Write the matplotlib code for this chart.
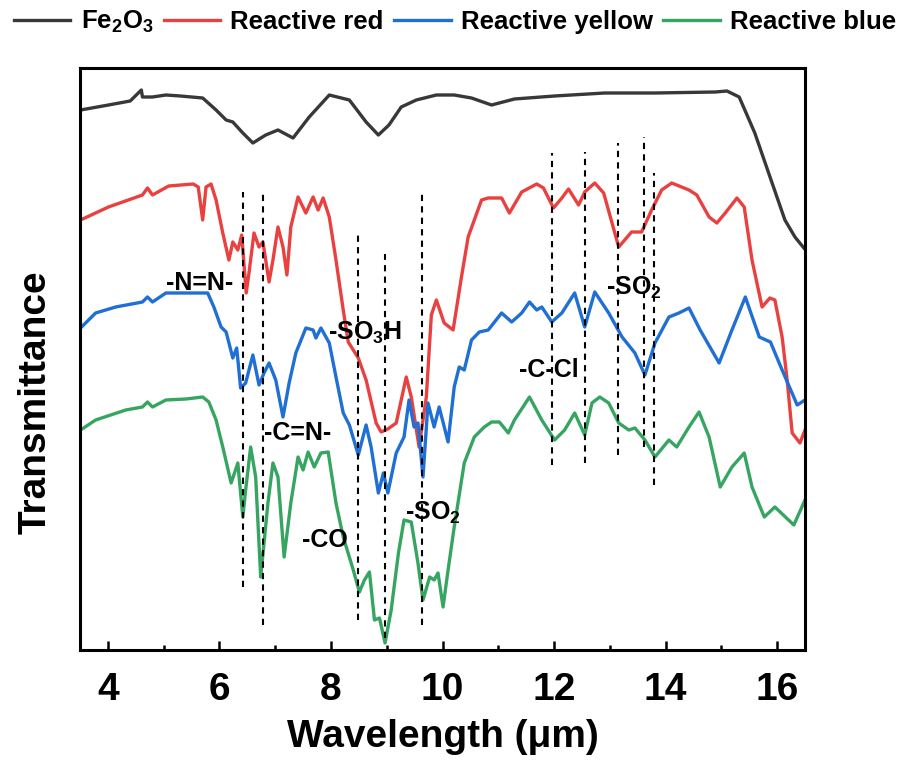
import matplotlib
matplotlib.use("Agg")
import matplotlib.pyplot as plt

plt.rcParams['font.family'] = ['Liberation Sans', 'DejaVu Sans']
plt.rcParams['font.weight'] = 'bold'
plt.rcParams['mathtext.fontset'] = 'custom'
plt.rcParams['mathtext.rm'] = 'Liberation Sans:bold'
plt.rcParams['mathtext.bf'] = 'Liberation Sans:bold'
plt.rcParams['mathtext.default'] = 'bf'

# Spectra (wavelength in um, transmittance in a.u.)
fe_x = [3.51, 4.01, 4.40, 4.60, 4.62, 4.80, 5.04, 5.30, 5.70, 5.94,
        6.12, 6.24, 6.42, 6.60, 6.83, 7.05, 7.32, 7.61, 7.97, 8.33,
        8.63, 8.85, 9.04, 9.26, 9.53, 9.89, 10.21, 10.52, 10.88, 11.29,
        12.01, 12.91, 13.81, 14.89, 15.10, 15.32, 15.60, 15.91, 16.14, 16.32,
        16.48]
fe_y = [540, 545, 549, 560, 553, 553, 555, 554, 552, 540,
        530, 528, 517, 507, 515, 520, 512, 533, 555, 550,
        528, 515, 525, 543, 550, 555, 555, 552, 545, 551,
        554, 557, 557, 558, 559, 553, 517, 467, 430, 413,
        402]

red_x = [3.51, 4.01, 4.62, 4.71, 4.80, 5.09, 5.53, 5.62, 5.70, 5.76,
         5.85, 5.94, 6.06, 6.17, 6.24, 6.33, 6.40, 6.48, 6.53, 6.62,
         6.71, 6.78, 6.89, 6.96, 7.05, 7.14, 7.21, 7.28, 7.41, 7.55,
         7.68, 7.77, 7.86, 7.97, 8.09, 8.22, 8.31, 8.49, 8.63, 8.81,
         8.90, 9.02, 9.17, 9.35, 9.44, 9.58, 9.71, 9.80, 9.89, 10.03,
         10.19, 10.34, 10.46, 10.70, 10.82, 11.06, 11.20, 11.42, 11.69, 11.81,
         11.99, 12.14, 12.26, 12.44, 12.55, 12.73, 12.89, 13.04, 13.16, 13.39,
         13.57, 13.75, 13.93, 14.11, 14.42, 14.56, 14.78, 14.92, 15.07, 15.28,
         15.41, 15.55, 15.73, 15.87, 15.96, 16.09, 16.18, 16.27, 16.41, 16.50]
red_y = [430, 443, 455, 462, 455, 464, 466, 463, 430, 463,
         466, 450, 417, 390, 408, 400, 415, 357, 377, 417,
         403, 408, 368, 390, 423, 403, 375, 423, 453, 437,
         453, 440, 452, 433, 390, 340, 308, 292, 270, 227,
         218, 221, 227, 273, 253, 203, 253, 335, 350, 327,
         320, 373, 413, 450, 452, 452, 437, 458, 466, 462,
         442, 452, 461, 445, 458, 467, 457, 427, 403, 418,
         418, 440, 460, 467, 460, 455, 433, 427, 437, 452,
         443, 390, 343, 352, 350, 313, 270, 217, 207, 220]

blue_x = [3.51, 3.78, 4.14, 4.62, 4.71, 4.80, 5.04, 5.40, 5.79, 5.90,
          6.03, 6.12, 6.24, 6.31, 6.38, 6.47, 6.60, 6.71, 6.80, 6.89,
          7.01, 7.14, 7.25, 7.37, 7.55, 7.68, 7.73, 7.82, 7.97, 8.09,
          8.22, 8.33, 8.49, 8.63, 8.72, 8.85, 8.94, 9.02, 9.17, 9.31,
          9.40, 9.49, 9.56, 9.65, 9.74, 9.85, 9.94, 10.10, 10.21, 10.30,
          10.39, 10.52, 10.66, 10.82, 11.06, 11.24, 11.42, 11.56, 11.69, 11.78,
          11.96, 12.14, 12.37, 12.55, 12.73, 12.98, 13.22, 13.45, 13.63, 13.81,
          14.06, 14.24, 14.42, 14.62, 14.96, 15.19, 15.43, 15.68, 15.88, 16.09,
          16.36, 16.50]
blue_y = [322, 337, 343, 348, 353, 348, 357, 357, 357, 343,
          323, 318, 292, 302, 262, 267, 295, 265, 277, 287,
          270, 233, 267, 297, 322, 320, 312, 322, 307, 273,
          237, 225, 195, 225, 203, 157, 177, 157, 197, 213,
          250, 223, 227, 173, 247, 223, 243, 208, 263, 283,
          280, 310, 318, 320, 337, 328, 337, 348, 340, 343,
          328, 337, 357, 323, 358, 337, 313, 297, 275, 307,
          333, 337, 342, 320, 287, 320, 353, 313, 308, 280,
          245, 250]

green_x = [3.51, 3.78, 4.32, 4.62, 4.71, 4.80, 5.04, 5.40, 5.70, 5.81,
           5.94, 6.06, 6.21, 6.33, 6.42, 6.47, 6.56, 6.65, 6.74, 6.87,
           6.96, 7.05, 7.16, 7.28, 7.41, 7.50, 7.59, 7.70, 7.82, 7.95,
           8.09, 8.22, 8.40, 8.51, 8.60, 8.69, 8.78, 8.87, 8.97, 9.08,
           9.21, 9.31, 9.44, 9.56, 9.65, 9.77, 9.85, 9.92, 10.01, 10.10,
           10.21, 10.39, 10.57, 10.75, 10.88, 11.02, 11.18, 11.29, 11.56, 11.78,
           12.01, 12.19, 12.37, 12.55, 12.68, 12.82, 12.98, 13.16, 13.34, 13.45,
           13.63, 13.81, 14.06, 14.20, 14.42, 14.60, 14.78, 14.98, 15.19, 15.41,
           15.55, 15.77, 15.96, 16.30, 16.50]
green_y = [220, 230, 240, 243, 248, 243, 250, 251, 253, 248,
           230, 203, 167, 187, 133, 160, 203, 173, 73, 147,
           187, 173, 93, 147, 193, 180, 198, 183, 197, 198,
           147, 113, 80, 58, 70, 78, 30, 32, 7, 40,
           97, 130, 128, 87, 50, 73, 70, 77, 43, 80,
           123, 187, 213, 223, 228, 228, 217, 230, 253, 230,
           210, 220, 237, 215, 247, 253, 247, 227, 220, 222,
           210, 193, 210, 203, 223, 238, 213, 163, 183, 197,
           163, 133, 143, 125, 150]

# dashed marker lines: position, lower end, upper end
peak_x = [6.42, 6.79, 8.48, 8.96, 9.64, 11.96, 12.56, 13.14, 13.62, 13.80]
peak_lo = [63, 25, 30, 12, 25, 185, 187, 195, 203, 165]
peak_hi = [458, 458, 417, 396, 458, 497, 498, 507, 513, 477]

labels = ['-N=N-', '-SO$_3$H', '-C=N-', '-CO', '-SO$_2$', '-C-Cl', '-SO$_2$']
label_x = [5.04, 7.95, 6.80, 7.48, 9.32, 11.37, 12.94]
label_y = [360, 310, 210, 103, 130, 273, 355]

fig = plt.figure(figsize=(9.05, 7.71), dpi=100)
ax = fig.add_axes([80 / 905, 121 / 771, 725 / 905, 582 / 771])

ax.plot(fe_x, fe_y, color='#383838', lw=2.4, label='Fe$_2$O$_3$')
ax.plot(red_x, red_y, color='#E8413F', lw=2.4, label='Reactive red')
ax.plot(blue_x, blue_y, color='#1F6FD4', lw=2.4, label='Reactive yellow')
ax.plot(green_x, green_y, color='#37A562', lw=2.4, label='Reactive blue')

ax.vlines(peak_x, peak_lo, peak_hi, colors='k', linestyles=(0, (3, 2.5)), lw=1.5)

for txt, tx, ty in zip(labels, label_x, label_y):
    ax.text(tx, ty, txt, fontsize=18, fontweight='bold', ha='left', va='baseline')

ax.set_xlim(3.5, 16.5)
ax.set_ylim(0, 582)
ax.set_xticks([4, 6, 8, 10, 12, 14, 16])
ax.set_xticks([5, 7, 9, 11, 13, 15], minor=True)
ax.set_yticks([])
ax.tick_params(axis='x', which='major', direction='in', length=6.5, width=1.8,
               labelsize=28, pad=16)
ax.tick_params(axis='x', which='minor', direction='in', length=3.5, width=1.8)
for s in ax.spines.values():
    s.set_linewidth(2.2)

ax.set_xlabel('Wavelength (μm)', fontsize=28, fontweight='bold', labelpad=8)
ax.set_ylabel('Transmittance', fontsize=28, fontweight='bold')
ax.yaxis.set_label_coords(-0.037, 0.426)

fig.legend(loc='center', bbox_to_anchor=(455 / 905, 1 - 22 / 771), ncol=4,
           frameon=False, fontsize=18.5, handlelength=2.2, handletextpad=0.4,
           columnspacing=0.4, borderaxespad=0)

fig.savefig('out.png', dpi=100)
